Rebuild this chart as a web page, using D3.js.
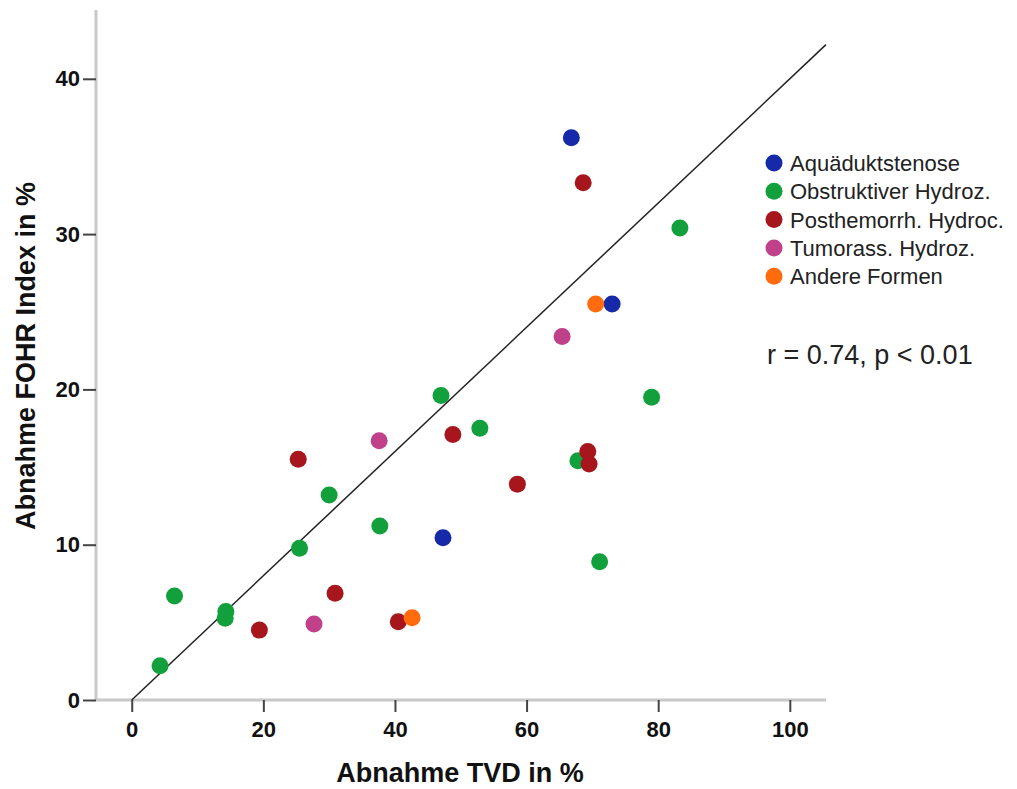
<!DOCTYPE html>
<html>
<head>
<meta charset="utf-8">
<script src="https://cdn.jsdelivr.net/npm/d3@7"></script>
<style>
  body { margin: 0; background: #fff; }
  svg { display: block; font-family: "Liberation Sans", Arial, sans-serif; }
</style>
</head>
<body>
<div id="chart"></div>
<script>
// groups shown in the legend
var groups = ["Aquäduktstenose", "Obstruktiver Hydroz.", "Posthemorrh. Hydroc.", "Tumorass. Hydroz.", "Andere Formen"];
var groupColors = ["#1629a8", "#12a03c", "#a6161c", "#c0408a", "#ff6b0d"];

// points, per group: TVD decrease (x), FOHR decrease (y)
var aquaX = [66.8, 73.0, 47.3];
var aquaY = [36.2, 25.5, 10.45];
var obstrX = [83.3, 79.0, 47.0, 52.9, 67.8, 71.1, 37.7, 30.0, 25.5, 6.5, 14.3, 14.2, 4.3];
var obstrY = [30.4, 19.5, 19.6, 17.5, 15.4, 8.9, 11.2, 13.2, 9.77, 6.7, 5.7, 5.26, 2.2];
var posthX = [68.6, 25.3, 48.8, 69.3, 69.5, 58.6, 30.9, 40.5, 19.4];
var posthY = [33.3, 15.5, 17.1, 16.0, 15.2, 13.9, 6.87, 5.04, 4.5];
var tumorX = [65.4, 37.6, 27.7];
var tumorY = [23.4, 16.7, 4.9];
var andereX = [70.5, 42.6];
var andereY = [25.5, 5.3];

var xTicks = [0, 20, 40, 60, 80, 100];
var yTicks = [0, 10, 20, 30, 40];

// fit line through origin
var fitX = [0, 105.5];
var fitY = [0, 42.2];

var statText = "r = 0.74, p < 0.01";

var width = 1017, height = 789;

var svg = d3.select("#chart").append("svg")
    .attr("width", width)
    .attr("height", height);

var x = d3.scaleLinear().domain([-5.43, 105.5]).range([96, 826]);
var y = d3.scaleLinear().domain([0, 44.43]).range([700, 10]);

var groupX = [aquaX, obstrX, posthX, tumorX, andereX];
var groupY = [aquaY, obstrY, posthY, tumorY, andereY];
var points = [];
for (var g = 0; g < groups.length; g++) {
    for (var i = 0; i < groupX[g].length; i++) {
        points.push({x: groupX[g][i], y: groupY[g][i], g: g});
    }
}

// x axis
var xAxis = svg.append("g")
    .attr("transform", "translate(0," + y(0) + ")")
    .call(d3.axisBottom(x).tickValues(xTicks).tickSize(12).tickPadding(9));
xAxis.select(".domain").attr("stroke", "#c8c8c8").attr("stroke-width", 3)
    .attr("d", "M" + x.range()[0] + ",0H" + x.range()[1]);
xAxis.selectAll(".tick line").attr("stroke", "#444").attr("stroke-width", 2);
xAxis.selectAll(".tick text").attr("font-size", 22).attr("font-weight", "bold")
    .attr("fill", "#111").attr("font-family", "Liberation Sans, Arial, sans-serif");

// y axis
var yAxis = svg.append("g")
    .attr("transform", "translate(" + x.range()[0] + ",0)")
    .call(d3.axisLeft(y).tickValues(yTicks).tickSize(13).tickPadding(3));
yAxis.select(".domain").attr("stroke", "#c8c8c8").attr("stroke-width", 3)
    .attr("d", "M0," + y.range()[1] + "V" + y.range()[0]);
yAxis.selectAll(".tick line").attr("stroke", "#444").attr("stroke-width", 2);
yAxis.selectAll(".tick text").attr("font-size", 22).attr("font-weight", "bold")
    .attr("fill", "#111").attr("font-family", "Liberation Sans, Arial, sans-serif");

// axis titles
svg.append("text")
    .attr("x", 460).attr("y", 782)
    .attr("text-anchor", "middle")
    .attr("font-size", 27).attr("font-weight", "bold").attr("fill", "#111")
    .text("Abnahme TVD in %");

svg.append("text")
    .attr("transform", "translate(35,356) rotate(-90)")
    .attr("text-anchor", "middle")
    .attr("font-size", 27).attr("font-weight", "bold").attr("fill", "#111")
    .text("Abnahme FOHR Index in %");

// fit line
svg.append("line")
    .attr("x1", x(fitX[0])).attr("y1", y(fitY[0]))
    .attr("x2", x(fitX[1])).attr("y2", y(fitY[1]))
    .attr("stroke", "#222").attr("stroke-width", 1.5);

// dots
svg.append("g").selectAll("circle")
    .data(points)
    .enter()
    .append("circle")
    .attr("cx", function (d) { return x(d.x); })
    .attr("cy", function (d) { return y(d.y); })
    .attr("r", 8.5)
    .attr("fill", function (d) { return groupColors[d.g]; });

// legend
var legend = svg.append("g").attr("transform", "translate(774,163)");
var rows = legend.selectAll("g")
    .data(groups)
    .enter()
    .append("g")
    .attr("transform", function (d, i) { return "translate(0," + (i * 28.3) + ")"; });
rows.append("circle").attr("r", 8.5)
    .attr("fill", function (d, i) { return groupColors[i]; });
rows.append("text")
    .attr("x", 16).attr("y", 8)
    .attr("font-size", 22).attr("fill", "#222")
    .text(function (d) { return d; });

svg.append("text")
    .attr("x", 767).attr("y", 364)
    .attr("font-size", 27).attr("fill", "#222")
    .text(statText);
</script>
</body>
</html>
